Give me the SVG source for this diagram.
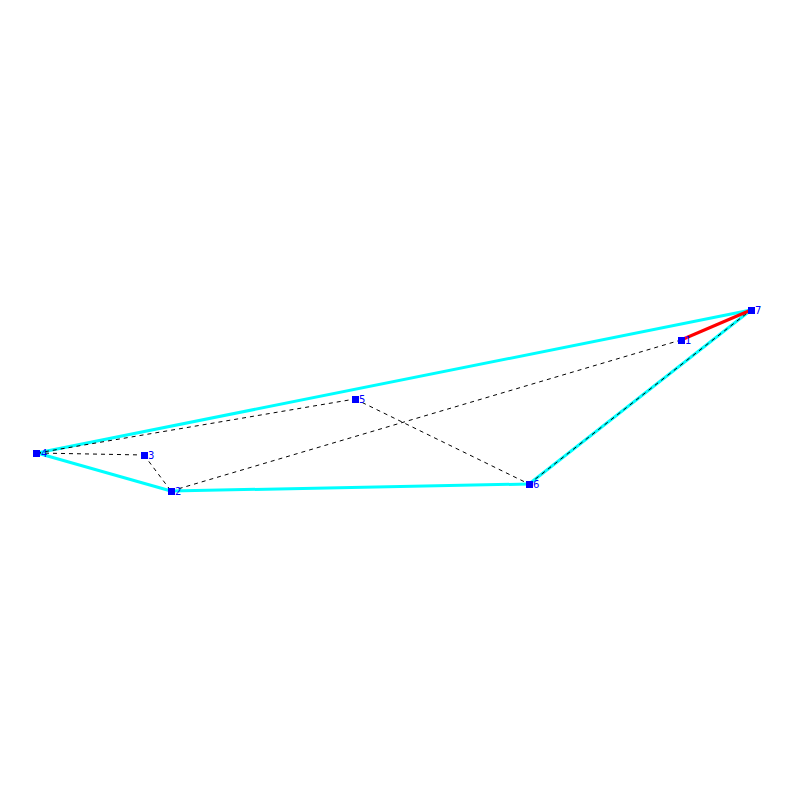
<svg xmlns="http://www.w3.org/2000/svg" width="800" height="800" viewBox="0 0 800 800">
<style>
.hull{stroke:#00ffff;stroke-width:3;fill:none}
.red{stroke:#ff0000;stroke-width:3;fill:none}
.dash{stroke:#000;stroke-width:1;stroke-dasharray:4,4;fill:none}
.node rect{fill:#0000ff}
.node text{fill:#0000ff;font-family:"DejaVu Sans",sans-serif;font-size:10px}
</style>
<rect width="800" height="800" fill="#fff"/>
<g id="connectors">
<line class="hull" x1="37" y1="453" x2="751" y2="310"/>
<line class="hull" x1="37" y1="453" x2="171" y2="491"/>
<line class="hull" x1="171" y1="491" x2="529" y2="484"/>
<line class="hull" x1="529" y1="484" x2="751" y2="310"/>
<line class="dash" x1="37" y1="453" x2="355" y2="399"/>
<line class="dash" x1="355" y1="399" x2="529" y2="484"/>
<line class="dash" x1="37" y1="453" x2="144" y2="455"/>
<line class="dash" x1="144" y1="455" x2="171" y2="491"/>
<line class="dash" x1="171" y1="491" x2="681" y2="340"/>
<line class="dash" x1="529" y1="484" x2="751" y2="310"/>
<line class="red" x1="681" y1="340" x2="751" y2="310"/>
</g>
<g id="n1" class="node"><rect x="678" y="337" width="7" height="7"/><text x="685" y="344">1</text></g>
<g id="n2" class="node"><rect x="168" y="488" width="7" height="7"/><text x="175" y="495">2</text></g>
<g id="n3" class="node"><rect x="141" y="452" width="7" height="7"/><text x="148" y="459">3</text></g>
<g id="n4" class="node"><rect x="33" y="450" width="7" height="7"/><text x="41" y="457">4</text></g>
<g id="n5" class="node"><rect x="352" y="396" width="7" height="7"/><text x="359" y="403">5</text></g>
<g id="n6" class="node"><rect x="526" y="481" width="7" height="7"/><text x="533" y="488">6</text></g>
<g id="n7" class="node"><rect x="748" y="307" width="7" height="7"/><text x="755" y="314">7</text></g>
</svg>
